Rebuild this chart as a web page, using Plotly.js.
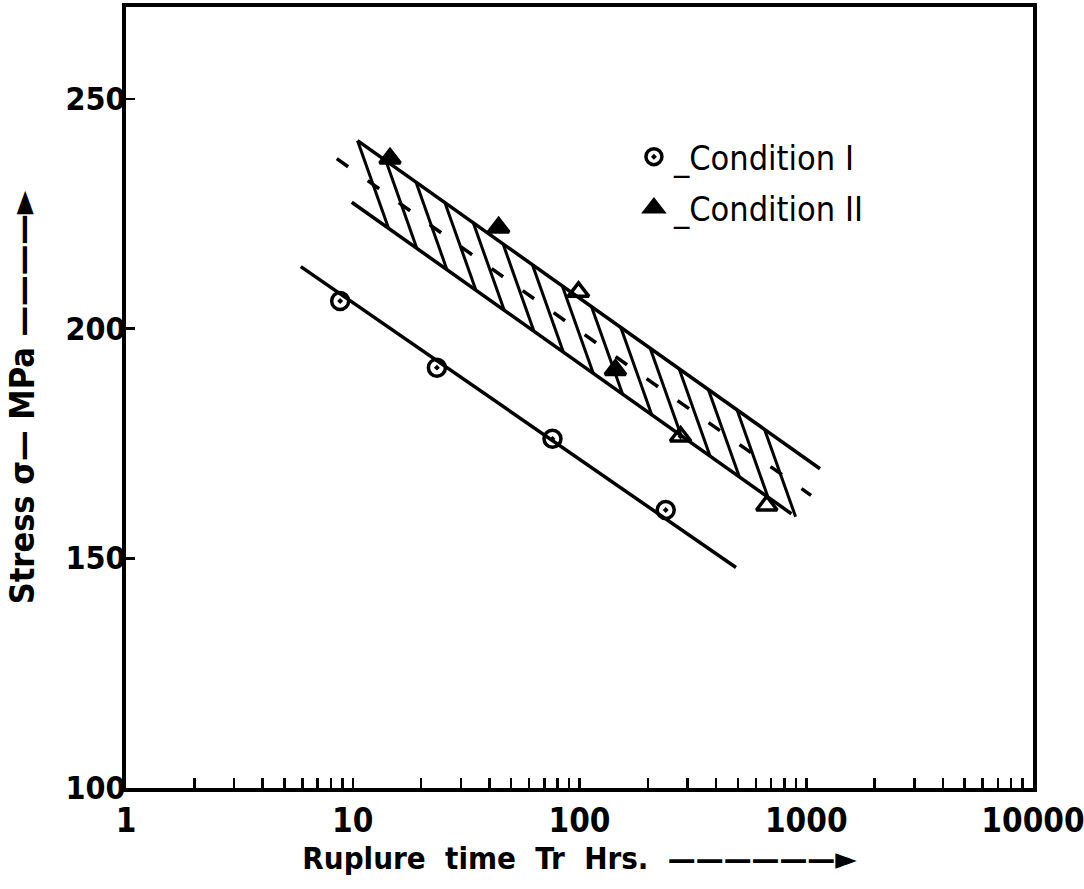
<!DOCTYPE html>
<html>
<head>
<meta charset="utf-8">
<script src="https://cdn.plot.ly/plotly-3.0.1.min.js"></script>
<style>html,body{margin:0;padding:0;background:#fff;}#chart{width:1084px;height:889px;}</style>
</head>
<body>
<div id="chart"></div>
<script>
// ---- data ----
const condI_hrs = [8.8, 23.5, 76, 240];
const condI_mpa = [206, 191.5, 176, 160.5];
const condII_hrs = [14.6, 44, 99, 144, 279, 670];
const condII_mpa = [237, 222, 208, 191, 176.5, 161.5];
const condII_symbols = ['triangle-up', 'triangle-up', 'triangle-up-open', 'triangle-up', 'triangle-up-open-dot', 'triangle-up-open'];

// fitted lines
const fitI_hrs = [5.9, 490];
const fitI_mpa = [213.5, 148];
const bandUpper_hrs = [10.5, 1150];
const bandUpper_mpa = [240.9, 169.5];
const bandLower_hrs = [9.9, 860];
const bandLower_mpa = [227.5, 159.7];
const bandMean_hrs = [8.5, 1050];
const bandMean_mpa = [237.0, 163.7];
// hatching of the scatter band: start points on the upper line
const hatchTop_hrs = [10.5, 14, 19, 25.5, 34, 46, 62, 84, 113, 152, 205, 275, 370, 495, 655];
const hatchSlant = 1.37; // ratio between bottom and top x of each hatch stroke

const xTickVals = [];
const xTickText = [];
[1, 10, 100, 1000].forEach(function (d) {
  for (let k = 1; k <= 9; k++) {
    xTickVals.push(d * k);
    xTickText.push(k === 1 ? String(d) : '');
  }
});
xTickVals.push(10000); xTickText.push('10000');
const yTickVals = [100, 150, 200, 250];

// ---- helpers ----
function yOnLine(xs, ys, x) {
  const l0 = Math.log10(xs[0]), l1 = Math.log10(xs[1]);
  const t = (Math.log10(x) - l0) / (l1 - l0);
  return ys[0] + t * (ys[1] - ys[0]);
}
const hx = [], hy = [];
hatchTop_hrs.forEach(function (xt) {
  const xb = xt * hatchSlant;
  hx.push(xt, xb, null);
  hy.push(yOnLine(bandUpper_hrs, bandUpper_mpa, xt), yOnLine(bandLower_hrs, bandLower_mpa, xb), null);
});

const FONT = '"DejaVu Sans Condensed", "DejaVu Sans", sans-serif';
const lineStyle = {color: '#000', width: 3.5};
const EM = '\u2003';

const traces = [
  {x: fitI_hrs, y: fitI_mpa, mode: 'lines', line: lineStyle, showlegend: false, hoverinfo: 'skip'},
  {x: bandUpper_hrs, y: bandUpper_mpa, mode: 'lines', line: lineStyle, showlegend: false, hoverinfo: 'skip'},
  {x: bandLower_hrs, y: bandLower_mpa, mode: 'lines', line: lineStyle, showlegend: false, hoverinfo: 'skip'},
  {x: bandMean_hrs, y: bandMean_mpa, mode: 'lines', line: {color: '#000', width: 3.5, dash: '14px,24px'}, showlegend: false, hoverinfo: 'skip'},
  {x: hx, y: hy, mode: 'lines', line: {color: '#000', width: 3}, showlegend: false, hoverinfo: 'skip', connectgaps: false},
  {x: condI_hrs, y: condI_mpa, mode: 'markers', name: '_Condition I', legendgroup: 'a',
   marker: {symbol: 'circle-open-dot', size: 17, color: '#000', line: {color: '#000', width: 3.5}}},
  {x: condII_hrs, y: condII_mpa, mode: 'markers', name: '_Condition II', legendgroup: 'b',
   marker: {symbol: condII_symbols, size: 18, color: '#000', line: {color: '#000', width: 3.5}}}
];

const layout = {
  width: 1084, height: 889,
  margin: {l: 126, r: 51, t: 7, b: 101},
  paper_bgcolor: '#fff', plot_bgcolor: '#fff',
  showlegend: true,
  legend: {x: 0.56, y: 0.845, xanchor: 'left', yanchor: 'top', bgcolor: 'rgba(0,0,0,0)',
           font: {family: FONT, size: 34, color: '#000'}, tracegroupgap: 4, traceorder: 'grouped',
           itemwidth: 30},
  xaxis: {
    type: 'log', range: [0, 4],
    tickmode: 'array', tickvals: xTickVals, ticktext: xTickText,
    ticks: 'inside', ticklen: 10, tickwidth: 2.5, tickcolor: '#000',
    showline: true, linewidth: 4, linecolor: '#000', mirror: true,
    showgrid: false, zeroline: false, ticklabeloverflow: 'allow',
    tickfont: {family: FONT, size: 33, color: '#000', weight: 'bold'},
    title: {text: EM + EM + 'Ruplure  time  Tr  Hrs.  ——————►', font: {family: FONT, size: 31, color: '#000', weight: 'bold'}, standoff: 4}
  },
  yaxis: {
    range: [100, 270],
    tickmode: 'array', tickvals: yTickVals,
    ticks: 'inside', ticklen: 9, tickwidth: 2.5, tickcolor: '#000',
    showline: true, linewidth: 4, linecolor: '#000', mirror: true,
    showgrid: false, zeroline: false, ticklabelstandoff: -10,
    tickfont: {family: FONT, size: 32, color: '#000', weight: 'bold'},
    title: {text: 'Stress σ— MPa ————►', font: {family: FONT, size: 34, color: '#000', weight: 'bold'}, standoff: 22}
  }
};

Plotly.newPlot('chart', traces, layout, {displayModeBar: false, staticPlot: true});
</script>
</body>
</html>
